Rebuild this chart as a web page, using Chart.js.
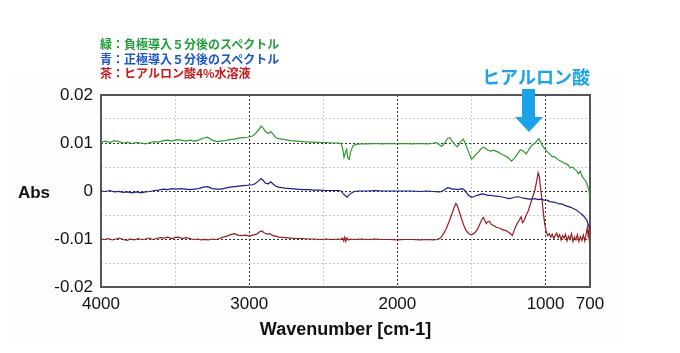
<!DOCTYPE html>
<html>

<head>
  <title>IR Spectrum</title>
  <script src="https://cdn.jsdelivr.net/npm/chart.js"></script>
  <style>
    body { margin: 0; background: #fff; }
    .wrap { position: relative; width: 680px; height: 353px; }
    .panel { position: absolute; left: 8px; top: 72px; width: 612px; height: 272px; background: #fdfdfd; }
    #ir-chart { position: absolute; left: 0; top: 0; }
    .legend { position: absolute; left: 100px; top: 37px; font: bold 12px "Noto Sans CJK JP", sans-serif; line-height: 14.5px; }
  </style>
</head>

<body>

  <div class="wrap">
    <div class="panel"></div>
    <canvas id="ir-chart" width="680" height="353"></canvas>
    <div class="legend">
      <div style="color:#1f9e3a">緑：負極導入５分後のスペクトル</div>
      <div style="color:#1d55c8">青：正極導入５分後のスペクトル</div>
      <div style="color:#c41a1a">茶：ヒアルロン酸4%水溶液</div>
    </div>
  </div>

  <script>
    // 軸
    const xTicks = [4000, 3500, 3000, 2500, 2000, 1500, 1000, 700];
    const xLabels = [4000, 3000, 2000, 1000, 700];
    const yTicks = [-0.02, -0.015, -0.01, -0.005, 0, 0.005, 0.01, 0.015, 0.02];
    const yLabels = [-0.02, -0.01, 0, 0.01, 0.02];

    // 緑：負極導入5分後
    const wnGreen = [4000, 3970, 3940, 3910, 3880, 3850, 3820, 3790, 3760, 3730, 3700, 3670, 3640, 3610, 3580, 3550, 3520, 3490, 3460, 3430, 3400, 3370, 3340, 3310, 3280, 3250, 3220, 3190, 3160, 3130, 3100, 3070, 3040, 3010, 2980, 2960, 2940, 2920, 2905, 2890, 2870, 2855, 2840, 2820, 2800, 2760, 2720, 2680, 2640, 2600, 2560, 2520, 2480, 2440, 2400, 2380, 2370, 2360, 2350, 2342, 2335, 2325, 2315, 2300, 2280, 2250, 2200, 2150, 2100, 2050, 2000, 1950, 1900, 1850, 1800, 1760, 1740, 1720, 1700, 1680, 1660, 1645, 1630, 1610, 1595, 1570, 1555, 1540, 1520, 1500, 1485, 1470, 1450, 1435, 1420, 1405, 1390, 1370, 1350, 1320, 1300, 1270, 1250, 1230, 1210, 1190, 1170, 1150, 1130, 1110, 1090, 1070, 1055, 1045, 1035, 1020, 1000, 985, 970, 955, 940, 925, 910, 895, 880, 865, 850, 835, 820, 805, 790, 778, 765, 752, 740, 728, 718, 708, 700];
    const absGreen = [0.0102, 0.0104, 0.0101, 0.0105, 0.0103, 0.0100, 0.0102, 0.0099, 0.0101, 0.0100, 0.0098, 0.0101, 0.0103, 0.0102, 0.0105, 0.0106, 0.0104, 0.0107, 0.0106, 0.0104, 0.0106, 0.0104, 0.0106, 0.0110, 0.0112, 0.0106, 0.0103, 0.0104, 0.0105, 0.0107, 0.0108, 0.0110, 0.0111, 0.0112, 0.0114, 0.0119, 0.0126, 0.0135, 0.0131, 0.0124, 0.0120, 0.0124, 0.0119, 0.0111, 0.0109, 0.0107, 0.0105, 0.0104, 0.0103, 0.0102, 0.0102, 0.0101, 0.0101, 0.0100, 0.0100, 0.0099, 0.0090, 0.0070, 0.0080, 0.0087, 0.0070, 0.0066, 0.0082, 0.0094, 0.0097, 0.0098, 0.0098, 0.0099, 0.0098, 0.0099, 0.0098, 0.0099, 0.0098, 0.0099, 0.0098, 0.0099, 0.0101, 0.0097, 0.0093, 0.0100, 0.0110, 0.0111, 0.0104, 0.0096, 0.0092, 0.0104, 0.0108, 0.0098, 0.0082, 0.0066, 0.0070, 0.0076, 0.0082, 0.0088, 0.0091, 0.0089, 0.0085, 0.0083, 0.0085, 0.0081, 0.0077, 0.0073, 0.0069, 0.0062, 0.0068, 0.0077, 0.0086, 0.0083, 0.0077, 0.0088, 0.0096, 0.0100, 0.0106, 0.0109, 0.0103, 0.0094, 0.0086, 0.0081, 0.0077, 0.0071, 0.0072, 0.0068, 0.0064, 0.0062, 0.0059, 0.0057, 0.0055, 0.0048, 0.0050, 0.0046, 0.0042, 0.0036, 0.0041, 0.0030, 0.0025, 0.0020, 0.0012, 0.0003, -0.0013];

    // 青：正極導入5分後
    const wnBlue = [4000, 3970, 3940, 3910, 3880, 3850, 3820, 3790, 3760, 3730, 3700, 3670, 3640, 3610, 3580, 3550, 3520, 3490, 3460, 3430, 3400, 3370, 3340, 3310, 3280, 3250, 3220, 3190, 3160, 3130, 3100, 3070, 3040, 3010, 2980, 2960, 2940, 2920, 2905, 2890, 2870, 2855, 2840, 2820, 2800, 2760, 2720, 2680, 2640, 2600, 2560, 2520, 2480, 2440, 2400, 2380, 2365, 2350, 2340, 2325, 2310, 2290, 2260, 2200, 2150, 2100, 2050, 2000, 1950, 1900, 1850, 1800, 1760, 1720, 1700, 1680, 1660, 1645, 1630, 1610, 1590, 1570, 1555, 1540, 1520, 1500, 1485, 1470, 1450, 1430, 1410, 1390, 1370, 1350, 1320, 1300, 1270, 1250, 1230, 1210, 1190, 1170, 1150, 1130, 1110, 1090, 1070, 1050, 1030, 1010, 990, 970, 950, 930, 910, 890, 870, 850, 830, 810, 790, 770, 750, 735, 720, 710, 700];
    const absBlue = [0.0000, -0.0001, 0.0001, -0.0002, -0.0001, -0.0003, -0.0002, -0.0004, -0.0002, -0.0004, -0.0002, -0.0001, 0.0001, 0.0002, 0.0004, 0.0003, 0.0005, 0.0004, 0.0005, 0.0004, 0.0003, 0.0004, 0.0005, 0.0008, 0.0009, 0.0005, 0.0004, 0.0004, 0.0006, 0.0008, 0.0009, 0.0010, 0.0011, 0.0012, 0.0013, 0.0015, 0.0020, 0.0026, 0.0022, 0.0016, 0.0015, 0.0019, 0.0015, 0.0010, 0.0008, 0.0006, 0.0005, 0.0004, 0.0003, 0.0003, 0.0002, 0.0002, 0.0001, 0.0001, 0.0001, 0.0000, -0.0006, -0.0010, -0.0013, -0.0008, -0.0004, -0.0001, 0.0000, 0.0000, 0.0001, 0.0000, 0.0000, 0.0000, 0.0000, 0.0000, -0.0001, 0.0000, -0.0001, -0.0002, -0.0001, 0.0003, 0.0007, 0.0006, 0.0004, 0.0004, 0.0003, 0.0005, 0.0004, -0.0001, -0.0009, -0.0013, -0.0012, -0.0010, -0.0008, -0.0006, -0.0007, -0.0009, -0.0009, -0.0010, -0.0011, -0.0012, -0.0014, -0.0016, -0.0015, -0.0013, -0.0012, -0.0013, -0.0015, -0.0016, -0.0017, -0.0017, -0.0016, -0.0018, -0.0017, -0.0019, -0.0019, -0.0022, -0.0023, -0.0024, -0.0027, -0.0027, -0.0030, -0.0032, -0.0034, -0.0037, -0.0040, -0.0045, -0.0050, -0.0055, -0.0062, -0.0072, -0.0080];

    // 茶：ヒアルロン酸4%水溶液
    const wnRed = [4000, 3975, 3950, 3925, 3900, 3875, 3850, 3825, 3800, 3775, 3750, 3725, 3700, 3675, 3650, 3625, 3600, 3575, 3550, 3525, 3500, 3475, 3450, 3425, 3400, 3375, 3350, 3325, 3300, 3275, 3250, 3225, 3200, 3175, 3150, 3125, 3100, 3075, 3050, 3025, 3000, 2975, 2950, 2930, 2915, 2900, 2880, 2860, 2840, 2820, 2800, 2760, 2720, 2680, 2640, 2600, 2560, 2520, 2480, 2440, 2400, 2380, 2370, 2362, 2355, 2348, 2340, 2330, 2315, 2290, 2250, 2200, 2150, 2100, 2050, 2000, 1950, 1900, 1850, 1800, 1760, 1730, 1710, 1690, 1670, 1650, 1630, 1615, 1605, 1595, 1580, 1565, 1550, 1535, 1520, 1505, 1490, 1475, 1460, 1445, 1430, 1420, 1410, 1400, 1390, 1380, 1365, 1350, 1330, 1310, 1290, 1270, 1250, 1235, 1225, 1210, 1195, 1180, 1165, 1155, 1145, 1130, 1115, 1100, 1085, 1075, 1060, 1050, 1042, 1035, 1025, 1015, 1005, 995, 985, 975, 965, 955, 945, 935, 925, 915, 905, 895, 885, 875, 865, 855, 845, 835, 825, 815, 805, 795, 785, 775, 765, 755, 745, 735, 725, 718, 712, 706, 700];
    const absRed = [-0.0100, -0.0101, -0.0099, -0.0102, -0.0100, -0.0098, -0.0101, -0.0103, -0.0100, -0.0102, -0.0099, -0.0101, -0.0100, -0.0098, -0.0101, -0.0099, -0.0097, -0.0098, -0.0096, -0.0099, -0.0097, -0.0096, -0.0099, -0.0097, -0.0099, -0.0101, -0.0100, -0.0102, -0.0101, -0.0102, -0.0100, -0.0101, -0.0099, -0.0096, -0.0094, -0.0091, -0.0089, -0.0092, -0.0093, -0.0092, -0.0094, -0.0092, -0.0090, -0.0085, -0.0083, -0.0087, -0.0090, -0.0089, -0.0093, -0.0094, -0.0096, -0.0097, -0.0098, -0.0099, -0.0099, -0.0100, -0.0100, -0.0101, -0.0100, -0.0101, -0.0100, -0.0101, -0.0098, -0.0104, -0.0096, -0.0105, -0.0098, -0.0102, -0.0100, -0.0101, -0.0100, -0.0101, -0.0100, -0.0101, -0.0101, -0.0102, -0.0101, -0.0101, -0.0102, -0.0101, -0.0102, -0.0101, -0.0098, -0.0090, -0.0078, -0.0063, -0.0046, -0.0033, -0.0026, -0.0031, -0.0045, -0.0060, -0.0073, -0.0083, -0.0088, -0.0091, -0.0090, -0.0086, -0.0080, -0.0070, -0.0060, -0.0055, -0.0061, -0.0068, -0.0064, -0.0063, -0.0070, -0.0072, -0.0076, -0.0077, -0.0081, -0.0082, -0.0086, -0.0089, -0.0093, -0.0081, -0.0070, -0.0062, -0.0054, -0.0066, -0.0062, -0.0050, -0.0040, -0.0025, -0.0010, -0.0002, 0.0020, 0.0038, 0.0030, 0.0010, -0.0015, -0.0045, -0.0070, -0.0085, -0.0093, -0.0089, -0.0096, -0.0090, -0.0099, -0.0093, -0.0088, -0.0097, -0.0091, -0.0102, -0.0093, -0.0098, -0.0090, -0.0104, -0.0094, -0.0101, -0.0089, -0.0105, -0.0096, -0.0102, -0.0091, -0.0105, -0.0095, -0.0103, -0.0092, -0.0104, -0.0088, -0.0076, -0.0095, -0.0080, -0.0070];

    const pts = (xs, ys) => xs.map((x, i) => ({ x: x, y: ys[i] }));
    const numFont = { family: 'Liberation Sans, Arial, sans-serif', size: 17 };

    // 枠・軸タイトル・注釈
    const decor = {
      id: 'decor',
      beforeDraw(chart) {
        const a = chart.chartArea, c = chart.ctx;
        c.save();
        c.fillStyle = '#fff';
        c.fillRect(a.left, a.top, a.right - a.left, a.bottom - a.top);
        c.restore();
      },
      beforeDatasetsDraw(chart) {
        const a = chart.chartArea, c = chart.ctx;
        c.save();
        c.strokeStyle = '#555';
        c.lineWidth = 2;
        c.strokeRect(a.left, a.top, a.right - a.left, a.bottom - a.top);
        c.restore();
      },
      afterDraw(chart) {
        const a = chart.chartArea, c = chart.ctx;
        c.save();
        c.fillStyle = '#111';
        c.textAlign = 'center';
        c.textBaseline = 'middle';
        c.font = 'bold 17px "Liberation Sans", Arial, sans-serif';
        c.fillText('Abs', 34, 193);
        c.font = 'bold 18px "Liberation Sans", Arial, sans-serif';
        c.fillText('Wavenumber [cm-1]', (a.left + a.right) / 2, 330);
        c.fillStyle = '#1aa3e8';
        c.font = 'bold 18px "Noto Sans CJK JP", sans-serif';
        c.fillText('ヒアルロン酸', 536, 77);
        // 矢印
        c.beginPath();
        c.moveTo(522, 89);
        c.lineTo(535, 89);
        c.lineTo(535, 117);
        c.lineTo(543, 117);
        c.lineTo(529, 132);
        c.lineTo(515, 117);
        c.lineTo(522, 117);
        c.closePath();
        c.fill();
        c.restore();
      }
    };

    const ctx = document.getElementById('ir-chart').getContext('2d');

    const irChart = new Chart(ctx, {
      type: 'line',
      data: {
        datasets: [{
          label: '緑',
          data: pts(wnGreen, absGreen),
          borderColor: '#2b9a2b',
          borderWidth: 1.2
        }, {
          label: '青',
          data: pts(wnBlue, absBlue),
          borderColor: '#1c1c8e',
          borderWidth: 1.2
        }, {
          label: '茶',
          data: pts(wnRed, absRed),
          borderColor: '#981c1c',
          borderWidth: 1.2
        }]
      },
      options: {
        responsive: false,
        animation: false,
        elements: { point: { radius: 0 }, line: { tension: 0 } },
        layout: { padding: { left: 0, top: 95, right: 90, bottom: 36 } },
        plugins: {
          legend: { display: false },
          tooltip: { enabled: false }
        },
        scales: {
          x: {
            type: 'linear',
            reverse: true,
            min: 700,
            max: 4000,
            afterBuildTicks: s => { s.ticks = xTicks.map(v => ({ value: v })); },
            afterFit: s => { s.height = 30; },
            ticks: {
              autoSkip: false,
              maxRotation: 0,
              padding: 7,
              color: '#111',
              font: numFont,
              callback: v => xLabels.includes(v) ? String(v) : ''
            },
            grid: {
              drawTicks: false,
              color: c => c.tick && c.tick.value % 1000 === 0 ? '#333' : '#c8c8c8'
            },
            border: { display: false, dash: [2, 2] }
          },
          y: {
            min: -0.02,
            max: 0.02,
            afterBuildTicks: s => { s.ticks = yTicks.map(v => ({ value: v })); },
            afterFit: s => { s.width = 101; },
            ticks: {
              padding: 8,
              color: '#111',
              font: numFont,
              callback: v => yLabels.some(l => Math.abs(l - v) < 1e-9) ? String(Math.round(v * 100) / 100) : ''
            },
            grid: {
              drawTicks: false,
              color: c => c.tick && Math.abs(Math.round(c.tick.value * 100) - c.tick.value * 100) < 1e-6 ? '#333' : '#c8c8c8'
            },
            border: { display: false, dash: [2, 2] }
          }
        }
      },
      plugins: [decor]
    });
  </script>
</body>

</html>
